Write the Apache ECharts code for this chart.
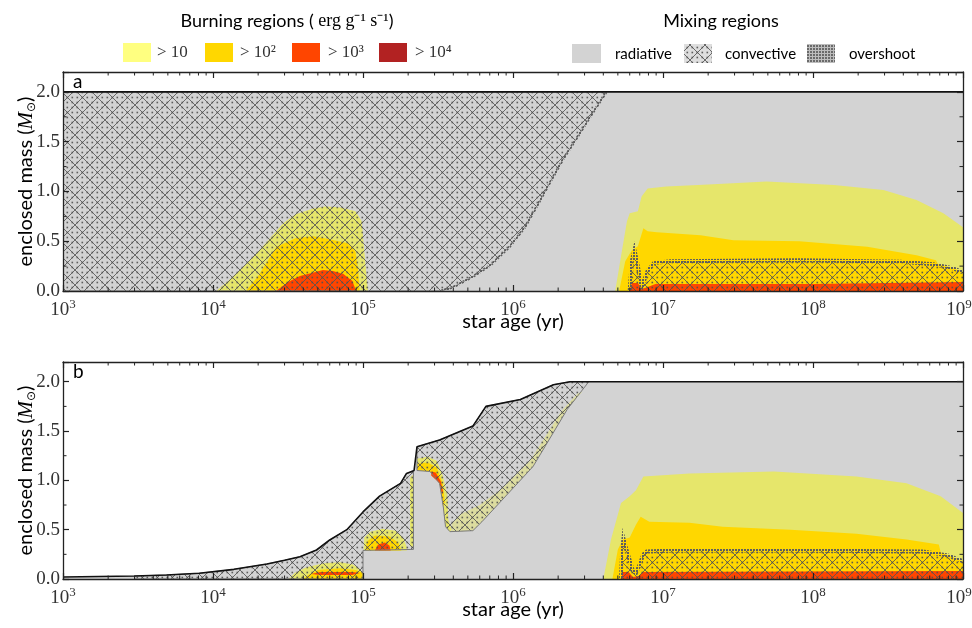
<!DOCTYPE html>
<html><head><meta charset="utf-8">
<script src="https://cdn.jsdelivr.net/npm/echarts@6/dist/echarts.min.js"></script>
<style>html,body{margin:0;padding:0;background:#fff}#c{width:972px;height:628px}</style>
</head><body><div id="c"></div>
<script>
// ---------------- data (age in yr, enclosed mass in Msun) ----------------
const xTickExp = [3, 4, 5, 6, 7, 8, 9];
const xMinorTicks = [2e3,3e3,4e3,5e3,6e3,7e3,8e3,9e3, 2e4,3e4,4e4,5e4,6e4,7e4,8e4,9e4,
  2e5,3e5,4e5,5e5,6e5,7e5,8e5,9e5, 2e6,3e6,4e6,5e6,6e6,7e6,8e6,9e6,
  2e7,3e7,4e7,5e7,6e7,7e7,8e7,9e7, 2e8,3e8,4e8,5e8,6e8,7e8,8e8,9e8];
const yMinorTicks = [0.25, 0.75, 1.25, 1.75];

// panel a
const aSurface = [[1e3, 2.0], [1e9, 2.0]];
const aConvEnvelope = [[1e3,0],[1e3,2.0],[4.2e6,2.0],[3.3e6,1.76],[2.7e6,1.55],[2.15e6,1.32],[1.75e6,1.08],[1.44e6,0.85],[1.2e6,0.64],[9.5e5,0.445],[7.1e5,0.26],[5.4e5,0.144],[4.0e5,0.04],[3.3e5,0]];
const aBurnD10 = [[1.05e4,0],[1.26e4,0.1],[1.77e4,0.31],[2.24e4,0.48],[2.94e4,0.68],[3.55e4,0.77],[4.67e4,0.83],[5.6e4,0.85],[7.1e4,0.84],[8.9e4,0.8],[9.8e4,0.7],[1.02e5,0.4],[1.07e5,0.05],[1.08e5,0]];
const aBurnD100 = [[1.66e4,0],[2.0e4,0.15],[2.65e4,0.445],[3.55e4,0.53],[4.65e4,0.55],[6.0e4,0.52],[7.9e4,0.48],[8.9e4,0.4],[9.3e4,0.2],[9.5e4,0]];
const aBurnD1000 = [[2.63e4,0],[3.16e4,0.09],[3.8e4,0.15],[5.4e4,0.21],[6.3e4,0.2],[7.4e4,0.17],[8.5e4,0.1],[9.0e4,0]];
const aBurnMS10 = [[4.8e6,0],[5.25e6,0.35],[5.75e6,0.7],[6.0e6,0.78],[6.8e6,0.8],[7.2e6,0.95],[7.9e6,1.03],[1.05e7,1.05],[2.0e7,1.07],[4.9e7,1.1],[1.38e8,1.065],[2.95e8,1.015],[4.9e8,0.915],[7.4e8,0.78],[1e9,0.64],[1e9,0]];
const aBurnMS100 = [[5.1e6,0],[5.6e6,0.3],[6.2e6,0.41],[6.8e6,0.45],[7.4e6,0.63],[7.9e6,0.6],[9.1e6,0.59],[1.78e7,0.56],[2.95e7,0.51],[8.1e7,0.5],[2.3e8,0.445],[4.9e8,0.36],[6.6e8,0.31],[6.8e8,0.27],[8.5e8,0.23],[1e9,0.19],[1e9,0]];
const aBurnMS1000 = [[6.0e6,0],[6.2e6,0.08],[6.8e6,0.08],[7.2e6,0.02],[7.9e6,0.04],[8.9e6,0.07],[1e8,0.07],[1e9,0.09],[1e9,0]];
const aConvCore = [[6.0e6,0],[6.2e6,0.3],[6.45e6,0.41],[6.7e6,0.3],[7.2e6,0.04],[7.9e6,0.2],[8.7e6,0.28],[1.12e7,0.3],[8.1e7,0.31],[3.8e8,0.295],[6.3e8,0.27],[8.5e8,0.23],[1e9,0.19],[1e9,0]];

// panel b
const bSurface = [[1e3,0.02],[3e3,0.03],[4.9e3,0.04],[8.1e3,0.058],[1.38e4,0.098],[2.29e4,0.152],[3.0e4,0.19],[3.8e4,0.226],[4.9e4,0.294],[6.0e4,0.396],[7.8e4,0.5],[1.0e5,0.68],[1.29e5,0.84],[1.78e5,0.97],[1.95e5,1.07],[2.19e5,1.1],[2.29e5,1.34],[3.24e5,1.41],[5.4e5,1.55],[6.6e5,1.75],[1.12e6,1.82],[1.86e6,1.97],[2.4e6,2.0],[1e9,2.0]];
const bConvEnv1 = [[3e3,0],[3e3,0.03],[4.9e3,0.04],[8.1e3,0.058],[1.38e4,0.098],[2.29e4,0.152],[3.0e4,0.19],[3.8e4,0.226],[4.9e4,0.294],[6.0e4,0.396],[7.8e4,0.5],[1.0e5,0.68],[1.29e5,0.84],[1.78e5,0.97],[1.95e5,1.07],[2.17e5,1.09],[2.17e5,0.3],[1.0e5,0.29],[1.0e5,0]];
const bConvEnv2 = [[2.29e5,1.1],[2.29e5,1.34],[3.24e5,1.41],[5.4e5,1.55],[6.6e5,1.75],[1.12e6,1.82],[1.86e6,1.97],[2.4e6,2.0],[3.2e6,2.0],[2.3e6,1.72],[1.36e6,1.14],[8.1e5,0.77],[6.2e5,0.58],[5.4e5,0.49],[3.8e5,0.48],[3.55e5,0.53],[3.43e5,0.73],[3.24e5,0.97],[2.8e5,1.09]];
const bBurnY1 = [[3.2e4,0],[3.5e4,0.06],[4.2e4,0.12],[5.5e4,0.16],[7e4,0.17],[8.5e4,0.15],[9.6e4,0.1],[1.0e5,0.04],[1.0e5,0]];
const bBurnY2 = [[1.01e5,0.29],[1.02e5,0.42],[1.12e5,0.48],[1.35e5,0.51],[1.65e5,0.49],[1.85e5,0.42],[1.95e5,0.33],[1.96e5,0.29]];
const bBurnYcap = [[2.29e5,1.1],[2.29e5,1.22],[2.7e5,1.24],[3.1e5,1.2],[3.4e5,1.05],[3.65e5,0.85],[3.7e5,0.6],[3.9e5,0.5],[3.8e5,0.48],[3.55e5,0.53],[3.43e5,0.73],[3.24e5,0.97],[2.8e5,1.09]];
const bBurnYstrip = [[2.06e5,0.33],[2.06e5,1.03],[2.17e5,1.06],[2.17e5,0.33]];
const bBurnYband = [[3.9e5,0.48],[5.4e5,0.49],[6.2e5,0.58],[8.1e5,0.77],[1.36e6,1.14],[2.3e6,1.72],[2.9e6,1.9],[2.7e6,1.88],[2.1e6,1.7],[1.3e6,1.2],[8.5e5,0.92],[6.0e5,0.75],[4.5e5,0.66],[3.9e5,0.56]];
const bBurnMS10 = [[4.0e6,0],[4.5e6,0.4],[5.25e6,0.77],[6.0e6,0.84],[6.6e6,0.9],[7.4e6,1.04],[1.5e7,1.07],[5.5e7,1.09],[1.95e8,1.04],[4.2e8,0.97],[7.1e8,0.84],[1e9,0.67],[1e9,0]];
const bBurnG1 = [[4.0e4,0],[4.3e4,0.04],[5e4,0.09],[7e4,0.11],[9e4,0.09],[1.0e5,0.06],[1.0e5,0]];
const bBurnG2 = [[1.04e5,0.29],[1.06e5,0.38],[1.2e5,0.44],[1.5e5,0.43],[1.72e5,0.37],[1.8e5,0.29]];
const bBurnGcap = [[2.3e5,1.1],[2.32e5,1.17],[2.7e5,1.18],[3.1e5,1.13],[3.4e5,0.97],[3.52e5,0.78],[3.43e5,0.73],[3.24e5,0.97],[2.8e5,1.09]];
const bBurnMS100 = [[4.6e6,0],[5.0e6,0.3],[5.4e6,0.4],[6.0e6,0.42],[6.6e6,0.55],[7.1e6,0.63],[8.1e6,0.58],[1.5e7,0.57],[2.5e7,0.53],[7.1e7,0.5],[1.95e8,0.46],[4.2e8,0.4],[6.9e8,0.35],[7.1e8,0.27],[1e9,0.18],[1e9,0]];
const bBurnR1 = [[4.5e4,0.05],[5.2e4,0.07],[8.5e4,0.07],[9.5e4,0.06],[8.5e4,0.04],[5.2e4,0.04]];
const bBurnR2 = [[1.2e5,0.29],[1.26e5,0.35],[1.4e5,0.37],[1.5e5,0.34],[1.53e5,0.29]];
const bBurnRcap = [[2.85e5,1.09],[3.05e5,1.08],[3.3e5,0.99],[3.42e5,0.88],[3.36e5,0.86],[3.24e5,0.97],[2.85e5,1.05]];
const bBurnMS1000 = [[5.25e6,0],[5.4e6,0.07],[5.9e6,0.07],[6.3e6,0.02],[6.9e6,0.03],[7.4e6,0.07],[1e9,0.08],[1e9,0]];
const bConvCore = [[5.25e6,0],[5.35e6,0.3],[5.45e6,0.41],[5.7e6,0.3],[6.3e6,0.08],[6.6e6,0.06],[7.0e6,0.15],[7.4e6,0.25],[7.8e6,0.28],[1.17e7,0.29],[7.1e7,0.29],[5.4e8,0.28],[7.9e8,0.24],[1e9,0.18],[1e9,0]];

// ---------------- styles ----------------
const C_RAD = '#d3d3d3', C10 = '#e6e66b', C100 = '#ffd700', C1000 = '#ff4500', C10000 = '#b22222';
const L10 = '#ffff80';
const SANS = 'Lato', SERIF = 'Liberation Serif';

function makeHatch() {
  const s = 15, c = document.createElement('canvas'); c.width = s; c.height = s;
  const g = c.getContext('2d');
  g.strokeStyle = 'rgba(85,85,85,0.85)'; g.lineWidth = 1;
  g.beginPath(); g.moveTo(-2,-2); g.lineTo(s+2,s+2); g.moveTo(s+2,-2); g.lineTo(-2,s+2); g.stroke();
  g.fillStyle = 'rgba(80,80,80,0.9)';
  [[0,2.5],[5,2.5],[10,2.5],[0,7.5],[5,7.5],[10,7.5],[0,12.5],[5,12.5],[10,12.5]].forEach(p => g.fillRect(p[0]+1.5, p[1]-0.8, 1.6, 1.6));
  return c;
}
function makeOver() {
  const s = 3, c = document.createElement('canvas'); c.width = s; c.height = s;
  const g = c.getContext('2d');
  g.fillStyle = '#5e5e5e'; g.fillRect(0, 0, 2, 2);
  return c;
}
function makeOverLegend() {
  const s = 3, c = document.createElement('canvas'); c.width = s; c.height = s;
  const g = c.getContext('2d');
  g.fillStyle = '#bdbdbd'; g.fillRect(0, 0, s, s);
  g.fillStyle = '#6a6a6a'; g.fillRect(0, 0, 2, 2);
  return c;
}
const patHatch = {image: makeHatch(), repeat: 'repeat'};
const patOver = {image: makeOver(), repeat: 'repeat'};
const patOverLegend = {image: makeOverLegend(), repeat: 'repeat'};

// ---------------- helpers ----------------
function polySeries(p, polys, style, type) {
  return {
    type: 'custom', xAxisIndex: p*2, yAxisIndex: p*2, clip: true, silent: true, animation: false,
    data: polys.map((q, i) => [q[0][0], q[0][1], i]),
    encode: {x: 0, y: 1},
    renderItem: function (params, api) {
      const q = polys[params.dataIndex];
      return {type: type || 'polygon', shape: {points: q.map(pt => api.coord(pt))}, style: Object.assign({}, style)};
    }
  };
}
function tickSeries(p) {
  const st = {stroke: '#222', lineWidth: 1};
  return [{
    type: 'custom', xAxisIndex: p*2, yAxisIndex: p*2, silent: true, z: 6, animation: false,
    data: xMinorTicks.map(v => [v, 0]), encode: {x: 0, y: 1},
    renderItem: function (params, api) {
      const v = xMinorTicks[params.dataIndex];
      const b = api.coord([v, 0]), t = api.coord([v, 2.2]);
      return {type: 'group', children: [
        {type: 'line', shape: {x1: b[0], y1: b[1], x2: b[0], y2: b[1] - 3.5}, style: st},
        {type: 'line', shape: {x1: t[0], y1: t[1], x2: t[0], y2: t[1] + 3.5}, style: st}]};
    }
  }, {
    type: 'custom', xAxisIndex: p*2, yAxisIndex: p*2, silent: true, z: 6, animation: false,
    data: yMinorTicks.map(v => [1e3, v]), encode: {x: 0, y: 1},
    renderItem: function (params, api) {
      const v = yMinorTicks[params.dataIndex];
      const l = api.coord([1e3, v]), r = api.coord([1e9, v]);
      return {type: 'group', children: [
        {type: 'line', shape: {x1: l[0], y1: l[1], x2: l[0] + 3.5, y2: l[1]}, style: st},
        {type: 'line', shape: {x1: r[0], y1: r[1], x2: r[0] - 3.5, y2: r[1]}, style: st}]};
    }
  }];
}

const panels = [
  {surface: aSurface, pale: [], b10: [aBurnD10, aBurnMS10], b100: [aBurnD100, aBurnMS100], b1000: [aBurnD1000, aBurnMS1000],
   env: [aConvEnvelope], envEdge: [aConvEnvelope.slice(2)], core: [aConvCore]},
  {surface: bSurface, pale: [bBurnYband], b10: [bBurnY1, bBurnY2, bBurnYcap, bBurnYstrip, bBurnMS10], b100: [bBurnG1, bBurnG2, bBurnGcap, bBurnMS100],
   b1000: [bBurnR1, bBurnR2, bBurnRcap, bBurnMS1000], env: [bConvEnv1, bConvEnv2], envEdge: [], core: [bConvCore]}
];

const series = [];
panels.forEach((P, p) => {
  series.push(polySeries(p, [[[1e3, 0]].concat(P.surface, [[1e9, 0]])], {fill: C_RAD}));
  series.push(polySeries(p, P.pale, {fill: C10, opacity: 0.5}));
  series.push(polySeries(p, P.b10, {fill: C10}));
  series.push(polySeries(p, P.b100, {fill: C100}));
  series.push(polySeries(p, P.b1000, {fill: C1000}));
  series.push(polySeries(p, P.env, {fill: patHatch, stroke: '#7a7a7a', lineWidth: 1}));
  series.push(polySeries(p, P.envEdge, {fill: 'none', stroke: patOver, lineWidth: 2.5}, 'polyline'));
  series.push(polySeries(p, P.core, {fill: patHatch}));
  series.push(polySeries(p, P.core.map(q => q.slice(0, q.length - 1)), {fill: 'none', stroke: patOver, lineWidth: 4}, 'polyline'));
  series.push({type: 'line', xAxisIndex: p*2, yAxisIndex: p*2, data: P.surface, showSymbol: false, symbol: 'none',
    lineStyle: {color: '#111', width: 1.6}, silent: true, animation: false, z: 4});
  tickSeries(p).forEach(s => series.push(s));
});

// ---------------- axes ----------------
const tops = [72, 362], heights = [219, 217];
const grids = tops.map((t, i) => ({left: 63, width: 900, top: t, height: heights[i], containLabel: false, outerBoundsMode: 'none'}));
const axisLine = {show: true, onZero: false, lineStyle: {color: '#222', width: 1.3}};
const axisTick = {show: true, inside: true, length: 6, lineStyle: {color: '#222', width: 1.2}};
const xAxes = [], yAxes = [];
[0, 1].forEach(g => {
  xAxes.push({type: 'log', logBase: 10, gridIndex: g, min: 1e3, max: 1e9, interval: 1, position: 'bottom', z: 5,
    axisLine, axisTick, splitLine: {show: false}, minorTick: {show: false},
    axisLabel: {margin: 7, showMinLabel: true, showMaxLabel: true,
      formatter: v => {
        const e = xTickExp[Math.round(Math.log10(v)) - 3];
        return '{b|10}' + (e === 9 ? '{e|' : '{s|') + e + '}';
      },
      rich: {b: {fontFamily: SERIF, fontSize: 19, color: '#333'},
             s: {fontFamily: SERIF, fontSize: 13, color: '#333', padding: [0, 0, 11, 0]},
             e: {fontFamily: SERIF, fontSize: 13, color: '#333', padding: [0, 8, 11, 0]}}},
    name: 'star age (yr)', nameLocation: 'middle', nameGap: 21, nameMoveOverlap: false,
    nameTextStyle: {fontFamily: SANS, fontSize: 20, color: '#000', verticalAlign: 'top'}});
  xAxes.push({type: 'log', logBase: 10, gridIndex: g, min: 1e3, max: 1e9, interval: 1, position: 'top', z: 5,
    axisLine, axisTick, minorTick: {show: false}, splitLine: {show: false}, axisLabel: {show: false}});
  yAxes.push({type: 'value', gridIndex: g, min: 0, max: 2.2, interval: 0.5, position: 'left', z: 5,
    axisLine, axisTick, splitLine: {show: false},
    axisLabel: {margin: 3, fontFamily: SERIF, fontSize: 19, color: '#333', formatter: v => (v > 2.05 ? '' : v.toFixed(1))},
    name: '{t|enclosed mass (}{m|M}{o|⊙}{t|)}', nameLocation: 'middle', nameGap: 25, nameMoveOverlap: false,
    nameTextStyle: {rich: {
      t: {fontFamily: SANS, fontSize: 20, color: '#000'},
      m: {fontFamily: SERIF, fontStyle: 'italic', fontSize: 21, color: '#000'},
      o: {fontFamily: 'DejaVu Sans', fontSize: 12, color: '#000', padding: [12, 0, 0, 0]}}}});
  yAxes.push({type: 'value', gridIndex: g, min: 0, max: 2.2, interval: 0.5, position: 'right', z: 5,
    axisLine, axisTick, splitLine: {show: false}, axisLabel: {show: false}});
});

// ---------------- legend (graphic) ----------------
const burnLegend = [[123, L10, '> 10', 157], [205, C100, '> 10²', 240], [292, C1000, '> 10³', 328], [379, C10000, '> 10⁴', 415]];
const graphic = [
  {type: 'text', x: 287, y: 21, style: {text: '{t|Burning regions (}{m| erg g⁻¹ s⁻¹}{t|)}', align: 'center', verticalAlign: 'middle',
    rich: {t: {fontFamily: SANS, fontSize: 18, fill: '#000'}, m: {fontFamily: SERIF, fontSize: 18, fill: '#000'}}}},
  {type: 'text', x: 721, y: 21, style: {text: 'Mixing regions', fontFamily: SANS, fontSize: 18, fill: '#000', align: 'center', verticalAlign: 'middle'}},
  {type: 'text', x: 73, y: 82, style: {text: 'a', fontFamily: SANS, fontSize: 19, fill: '#000', verticalAlign: 'middle'}},
  {type: 'text', x: 73, y: 372, style: {text: 'b', fontFamily: SANS, fontSize: 19, fill: '#000', verticalAlign: 'middle'}}
];
burnLegend.forEach(b => {
  graphic.push({type: 'rect', shape: {x: b[0], y: 43, width: 28, height: 19}, style: {fill: b[1]}});
  graphic.push({type: 'text', x: b[3], y: 53, style: {text: b[2], fontFamily: SERIF, fontSize: 17, fill: '#333', verticalAlign: 'middle'}});
});
graphic.push({type: 'rect', shape: {x: 572, y: 44, width: 29, height: 19}, style: {fill: C_RAD}});
graphic.push({type: 'text', x: 615, y: 54, style: {text: 'radiative', fontFamily: SANS, fontSize: 15, fill: '#000', verticalAlign: 'middle'}});
graphic.push({type: 'rect', shape: {x: 684, y: 44, width: 28, height: 19}, style: {fill: '#dedede'}});
graphic.push({type: 'rect', shape: {x: 684, y: 44, width: 28, height: 19}, style: {fill: patHatch}});
graphic.push({type: 'text', x: 725, y: 54, style: {text: 'convective', fontFamily: SANS, fontSize: 15, fill: '#000', verticalAlign: 'middle'}});
graphic.push({type: 'rect', shape: {x: 807, y: 44, width: 28, height: 19}, style: {fill: patOverLegend}});
graphic.push({type: 'text', x: 849, y: 54, style: {text: 'overshoot', fontFamily: SANS, fontSize: 15, fill: '#000', verticalAlign: 'middle'}});

const chart = echarts.init(document.getElementById('c'), null, {renderer: 'canvas'});
chart.setOption({
  animation: false,
  backgroundColor: '#fff',
  grid: grids,
  xAxis: xAxes,
  yAxis: yAxes,
  series: series,
  graphic: graphic
});
</script></body></html>
